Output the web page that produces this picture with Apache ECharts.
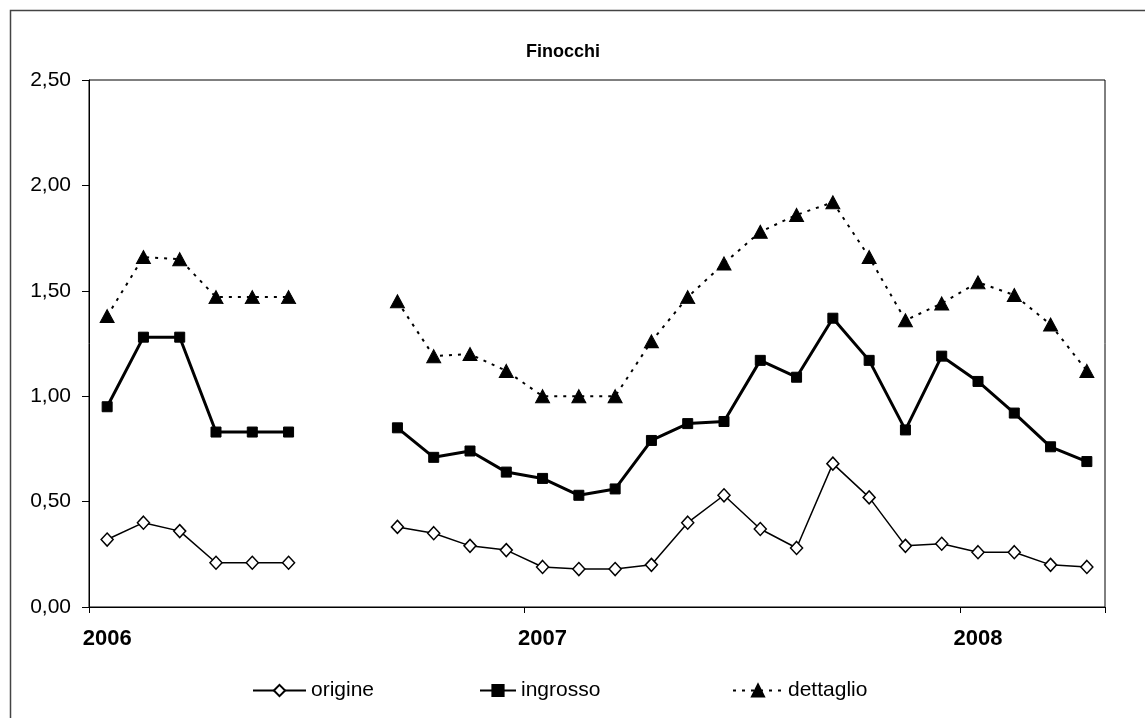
<!DOCTYPE html>
<html>
<head>
<meta charset="utf-8">
<script src="https://cdn.jsdelivr.net/npm/echarts@6/dist/echarts.min.js"></script>
<style>html,body{margin:0;padding:0;background:#fff}#c{width:1145px;height:718px}</style>
</head>
<body>
<div id="c"></div>
<script>
var months = ['2006-01','2006-02','2006-03','2006-04','2006-05','2006-06','2006-07','2006-08','2006-09','2006-10','2006-11','2006-12',
              '2007-01','2007-02','2007-03','2007-04','2007-05','2007-06','2007-07','2007-08','2007-09','2007-10','2007-11','2007-12',
              '2008-01','2008-02','2008-03','2008-04'];
var origine   = [0.32,0.40,0.36,0.21,0.21,0.21,null,null,0.38,0.35,0.29,0.27,0.19,0.18,0.18,0.20,0.40,0.53,0.37,0.28,0.68,0.52,0.29,0.30,0.26,0.26,0.20,0.19];
var ingrosso  = [0.95,1.28,1.28,0.83,0.83,0.83,null,null,0.85,0.71,0.74,0.64,0.61,0.53,0.56,0.79,0.87,0.88,1.17,1.09,1.37,1.17,0.84,1.19,1.07,0.92,0.76,0.69];
var dettaglio = [1.38,1.66,1.65,1.47,1.47,1.47,null,null,1.45,1.19,1.20,1.12,1.00,1.00,1.00,1.26,1.47,1.63,1.78,1.86,1.92,1.66,1.36,1.44,1.54,1.48,1.34,1.12];
var yTicks = [0, 0.5, 1.0, 1.5, 2.0, 2.5];

var chart = echarts.init(document.getElementById('c'), null, {renderer: 'canvas'});
var legText = {fontFamily: 'Liberation Sans', fontSize: 21, color: '#000'};
chart.setOption({
  animation: false,
  backgroundColor: '#fff',
  title: {
    text: 'Finocchi', left: 558, top: 38, textAlign: 'center',
    textStyle: {fontFamily: 'Liberation Sans', fontWeight: 'bold', fontSize: 18, color: '#000'}
  },
  graphic: [{
    type: 'rect', left: 8, top: 8, silent: true,
    shape: {x: 0, y: 0, width: 1160, height: 740},
    style: {fill: null, stroke: '#444', lineWidth: 1.5}
  }],
  legend: [
    {data: ['origine'], left: 247, top: 675, itemWidth: 53, itemHeight: 14, textStyle: legText},
    {data: ['ingrosso'], left: 474, top: 675, itemWidth: 36, itemHeight: 14, textStyle: legText},
    {data: ['dettaglio'], left: 727, top: 675, itemWidth: 50, itemHeight: 15, textStyle: legText}
  ],
  grid: {left: 89, right: 40, top: 80, bottom: 111, show: true, borderColor: '#000', borderWidth: 1, backgroundColor: 'transparent'},
  xAxis: {
    type: 'category', data: months, boundaryGap: true,
    axisLine: {lineStyle: {color: '#000', width: 1}},
    axisTick: {show: true, length: 6, lineStyle: {color: '#000'},
      interval: function (i) { return i % 12 === 0; }},
    axisLabel: {
      interval: 0, margin: 21,
      fontFamily: 'Liberation Sans', fontWeight: 'bold', fontSize: 22, color: '#000',
      formatter: function (v) { return v.slice(5) === '01' ? v.slice(0, 4) : ''; }
    },
    splitLine: {show: false}
  },
  yAxis: {
    type: 'value', min: yTicks[0], max: yTicks[yTicks.length - 1], interval: 0.5,
    axisLine: {show: true, lineStyle: {color: '#000', width: 1}},
    axisTick: {show: true, length: 7, lineStyle: {color: '#000'}},
    axisLabel: {
      margin: 18, fontFamily: 'Liberation Sans', fontSize: 21, color: '#000',
      formatter: function (v) { return v.toFixed(2).replace('.', ','); }
    },
    splitLine: {show: false}
  },
  series: [
    {
      name: 'origine', type: 'line', data: origine, connectNulls: false,
      symbol: 'diamond', symbolSize: [12, 13], showAllSymbol: true,
      lineStyle: {color: '#000', width: 1.5},
      itemStyle: {color: '#fff', borderColor: '#000', borderWidth: 1.5},
      z: 3
    },
    {
      name: 'ingrosso', type: 'line', data: ingrosso, connectNulls: false,
      symbol: 'rect', symbolSize: 10, showAllSymbol: true,
      lineStyle: {color: '#000', width: 3},
      itemStyle: {color: '#000', borderColor: '#000', borderWidth: 1},
      z: 4
    },
    {
      name: 'dettaglio', type: 'line', data: dettaglio, connectNulls: false,
      symbol: 'triangle', symbolSize: [14, 13], showAllSymbol: true,
      lineStyle: {color: '#000', width: 2, type: [3, 6]},
      itemStyle: {color: '#000', borderColor: '#000', borderWidth: 1},
      z: 5
    }
  ]
});
</script>
</body>
</html>
